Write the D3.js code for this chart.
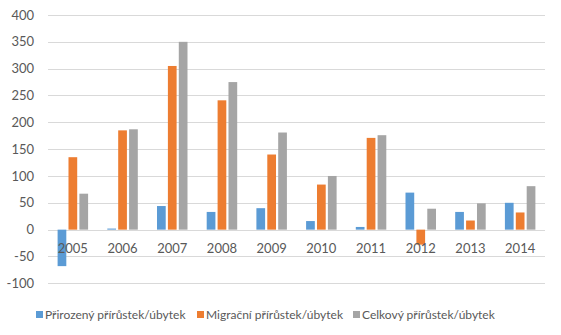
<!DOCTYPE html>
<html><head><meta charset="utf-8">
<script src="https://cdn.jsdelivr.net/npm/d3@7"></script>
<style>body{margin:0;background:#fff}svg{display:block}text{font-family:Lato,sans-serif;fill:#595959}</style>
</head><body><svg id="c" width="561" height="335"></svg>
<script>
const categories = ["2005","2006","2007","2008","2009","2010","2011","2012","2013","2014"];
const seriesNames = ["Přirozený přírůstek/úbytek","Migrační přírůstek/úbytek","Celkový přírůstek/úbytek"];
const natural   = [-68, 2, 44, 33, 40, 16, 5, 69, 33, 50];
const migration = [135, 185, 305, 241, 140, 84, 171, -28, 17, 32];
const total     = [67, 187, 350, 275, 181, 100, 176, 39, 49, 81];
const yTicks = [-100,-50,0,50,100,150,200,250,300,350,400];
const colors = ["#5B9BD5","#ED7D31","#A5A5A5"];
const series = [natural, migration, total];

const svg = d3.select("#c");
const x = d3.scaleBand().domain(categories).range([48, 545]).paddingInner(0).paddingOuter(0);
const y = d3.scaleLinear().domain([-100, 400]).range([283.3, 15]);
const inner = d3.scaleBand().domain([0,1,2]).range([0, 30.5]).paddingInner(0.2);
const off = (x.bandwidth() - 30.5) / 2;

// grid
svg.append("g").selectAll("line").data(yTicks).join("line")
  .attr("x1", 48).attr("x2", 545)
  .attr("y1", d => Math.round(y(d)) + 0.5).attr("y2", d => Math.round(y(d)) + 0.5)
  .attr("stroke", "#D9D9D9").attr("stroke-width", 1);

// y labels
svg.append("g").selectAll("text").data(yTicks).join("text")
  .attr("x", 34).attr("y", d => y(d)).attr("dy", "0.35em")
  .attr("text-anchor", "end").attr("font-size", 13).text(d => d);

// bars
series.forEach((vals, si) => {
  svg.append("g").selectAll("rect").data(vals).join("rect")
    .attr("x", (d, i) => x(categories[i]) + off + inner(si))
    .attr("width", inner.bandwidth())
    .attr("y", d => y(Math.max(0, d)))
    .attr("height", d => Math.abs(y(d) - y(0)))
    .attr("fill", colors[si]);
});

// x labels
svg.append("g").selectAll("text").data(categories).join("text")
  .attr("x", d => x(d) + x.bandwidth() / 2).attr("y", 248).attr("dy", "0.35em")
  .attr("text-anchor", "middle").attr("font-size", 13).text(d => d);

// legend
const legX = [36, 197, 353];
const lg = svg.append("g");
seriesNames.forEach((n, i) => {
  lg.append("rect").attr("x", legX[i]).attr("y", 311).attr("width", 7).attr("height", 7).attr("fill", colors[i]);
  lg.append("text").attr("x", legX[i] + 9).attr("y", 315).attr("dy", "0.35em").attr("font-size", 12).text(n);
});
</script></body></html>
